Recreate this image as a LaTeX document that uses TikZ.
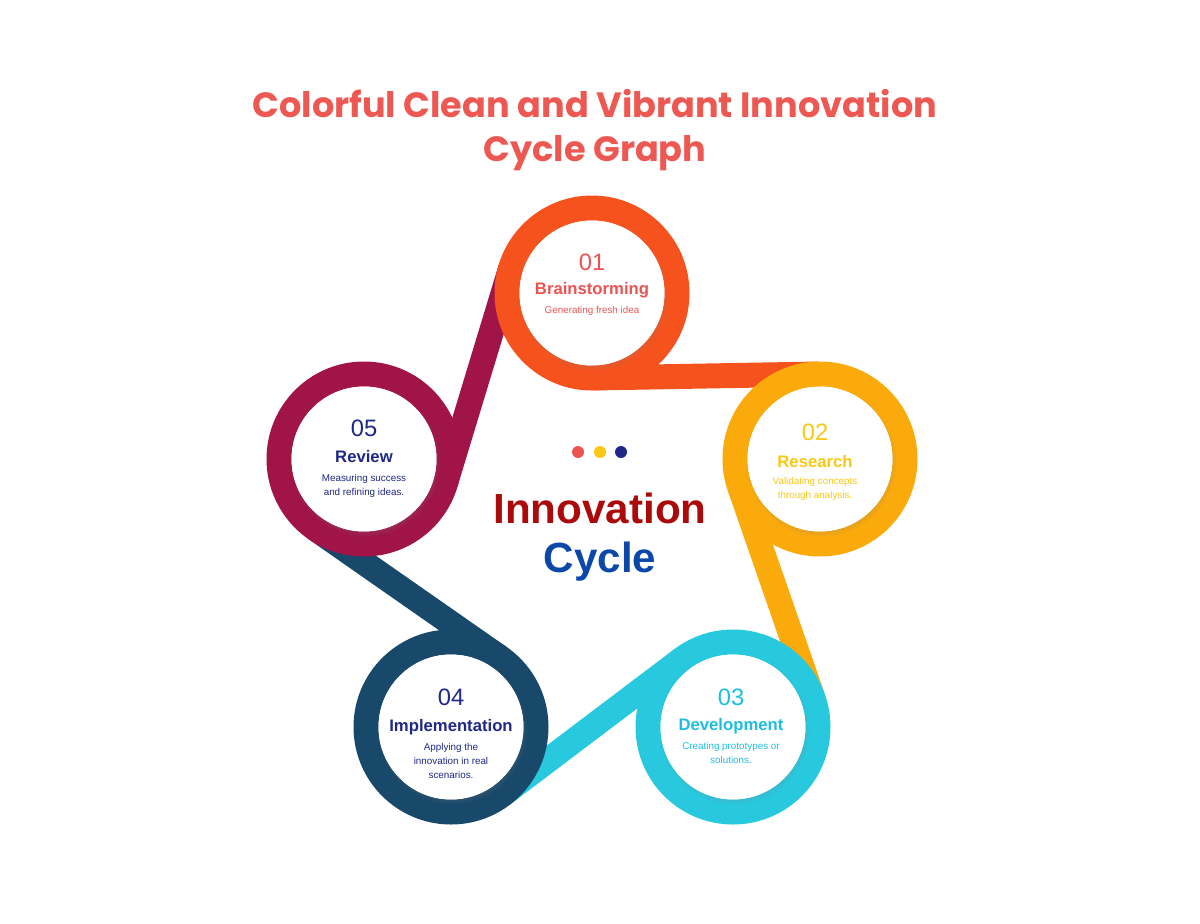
\documentclass[tikz,border=0pt]{standalone}
\usepackage{fontspec}
\setmainfont{Liberation Sans}
\newfontfamily\titlefont{Poppins}
\usetikzlibrary{calc,shadows}
\definecolor{cA}{RGB}{246,82,30}
\definecolor{cB}{RGB}{250,170,10}
\definecolor{cC}{RGB}{40,200,222}
\definecolor{cD}{RGB}{24,72,106}
\definecolor{cE}{RGB}{160,20,72}
\definecolor{tA}{RGB}{236,84,84}
\definecolor{tB}{RGB}{250,200,20}
\definecolor{tC}{RGB}{30,190,225}
\definecolor{tD}{RGB}{30,40,135}
\definecolor{ttl}{RGB}{238,88,82}
\definecolor{innov}{RGB}{170,10,10}
\definecolor{cyc}{RGB}{12,72,170}
\tikzset{
  band/.style={line width=0.5cm},
  inner/.style={circle,fill=white,minimum size=2.9cm,inner sep=0pt,circular drop shadow={shadow xshift=0.02cm,shadow yshift=-0.05cm,shadow scale=1.04,opacity=0.35}},
  num/.style={font=\fontsize{13.5}{14}\selectfont},
  ttlb/.style={font=\fontsize{9.5}{10}\selectfont\bfseries},
  desc/.style={font=\fontsize{5.6}{7.8}\selectfont,align=center},
}
\begin{document}
\begin{tikzpicture}[x=0.02cm,y=-0.02cm]
\useasboundingbox (0,0) rectangle (1200,923);
\coordinate (c1) at (592,293);
\coordinate (c2) at (820,459);
\coordinate (c3) at (733,727);
\coordinate (c4) at (451,727);
\coordinate (c5) at (364,459);
% strips
\draw[band,cA] ($(c1)+(88.9:85)$) -- ($(c2)+(268.9:85)$);
\draw[band,cB] ($(c2)+(160.9:85)$) -- ($(c3)+(340.9:85)$);
\draw[band,cC] ($(c3)+(232.9:85)$) -- ($(c4)+(52.9:85)$);
\draw[band,cD] ($(c4)+(304.9:85)$) -- ($(c5)+(124.9:85)$);
\draw[band,cE] ($(c5)+(16.9:85)$) -- ($(c1)+(196.9:85)$);
% rings
\foreach \c/\col in {c1/cA,c2/cB,c3/cC,c4/cD,c5/cE}{
  \draw[band,\col] (\c) circle (85);
  \node[inner] at (\c) {};
}
% texts
\node[num,tA] at ($(c1)+(0,-31)$) {01};
\node[ttlb,tA] at ($(c1)+(0,-3)$) {Brainstorming};
\node[desc,tA] at ($(c1)+(0,18)$) {Generating fresh idea};
\node[num,tB] at ($(c2)+(-5,-27)$) {02};
\node[ttlb,tB] at ($(c2)+(-5,3)$) {Research};
\node[desc,tB] at ($(c2)+(-5,30)$) {Validating concepts\\through analysis.};
\node[num,tC] at ($(c3)+(-2,-30)$) {03};
\node[ttlb,tC] at ($(c3)+(-2,-1)$) {Development};
\node[desc,tC] at ($(c3)+(-2,26)$) {Creating prototypes or\\solutions.};
\node[num,tD] at ($(c4)+(0,-30)$) {04};
\node[ttlb,tD] at ($(c4)+(0,0)$) {Implementation};
\node[desc,tD] at ($(c4)+(0,34)$) {Applying the\\innovation in real\\scenarios.};
\node[num,tD] at ($(c5)+(0,-31)$) {05};
\node[ttlb,tD] at ($(c5)+(0,-2)$) {Review};
\node[desc,tD] at ($(c5)+(0,27)$) {Measuring success\\and refining ideas.};
% center
\fill[tA] (578,452) circle (6);
\fill[tB] (600,452) circle (6);
\fill[tD] (621,452) circle (6);
\node[innov,font=\fontsize{24}{27}\selectfont\bfseries] at (600,508) {Innovation};
\node[cyc,font=\fontsize{24}{27}\selectfont\bfseries] at (600,562) {Cycle};
% title
\node[ttl,font=\titlefont\fontsize{20}{25.5}\selectfont\bfseries,align=center] at (595,130) {Colorful Clean and Vibrant Innovation\\Cycle Graph};
\end{tikzpicture}
\end{document}
